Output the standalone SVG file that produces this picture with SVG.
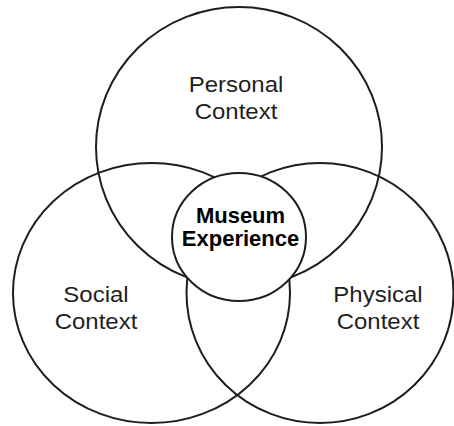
<svg xmlns="http://www.w3.org/2000/svg" width="454" height="426" viewBox="0 0 454 426">
  <style>
    .ring { fill: none; stroke: #1e1e1e; stroke-width: 2; }
    .core { fill: #ffffff; stroke: #1e1e1e; stroke-width: 2; }
    .label { font-family: "Liberation Sans", Arial, sans-serif; font-size: 22px; fill: #1e1e1e; text-anchor: middle; }
    .core-label { font-family: "Liberation Sans", Arial, sans-serif; font-size: 22px; font-weight: bold; fill: #000000; text-anchor: middle; }
  </style>
  <rect width="454" height="426" fill="#ffffff"/>

  <!-- no connectors: overlapping context areas only -->
  <g id="connectors"/>

  <g id="personal-context">
    <ellipse class="ring" cx="239" cy="147" rx="143" ry="140"/>
    <g transform="translate(236,92) scale(1.09,1)">
      <text class="label" x="0" y="0">Personal</text>
      <text class="label" x="0" y="27">Context</text>
    </g>
  </g>

  <g id="social-context">
    <ellipse class="ring" cx="151.5" cy="293" rx="138.5" ry="130"/>
    <g transform="translate(96,302) scale(1.09,1)">
      <text class="label" x="0" y="0">Social</text>
      <text class="label" x="0" y="27">Context</text>
    </g>
  </g>

  <g id="physical-context">
    <ellipse class="ring" cx="320" cy="293" rx="133.5" ry="130"/>
    <g transform="translate(378,302) scale(1.09,1)">
      <text class="label" x="0" y="0">Physical</text>
      <text class="label" x="0" y="27">Context</text>
    </g>
  </g>

  <g id="museum-experience">
    <ellipse class="core" cx="239" cy="237" rx="67" ry="64"/>
    <text class="core-label" x="240.5" y="223">Museum</text>
    <text class="core-label" x="240.5" y="246">Experience</text>
  </g>
</svg>
